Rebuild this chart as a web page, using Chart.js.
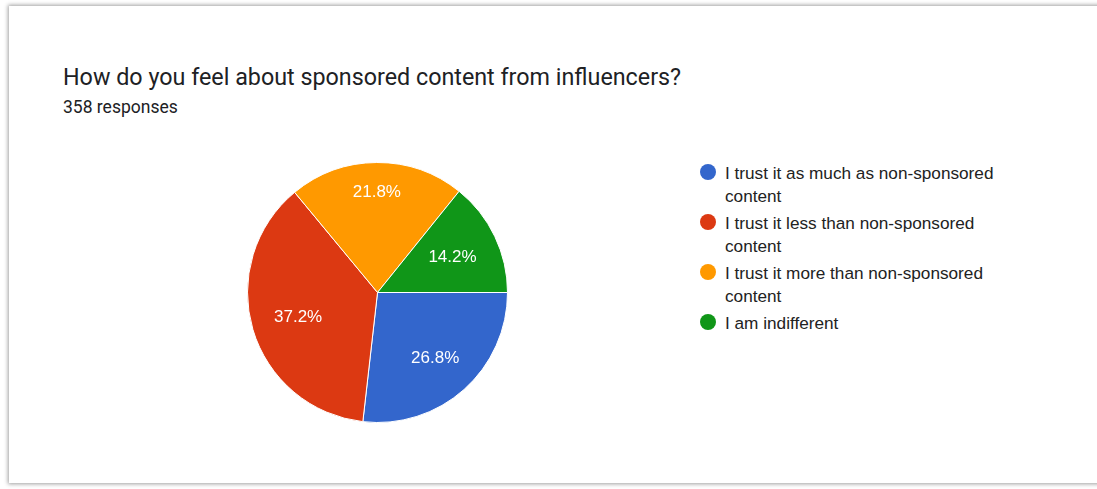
<!DOCTYPE html>
<html>
<head>
<meta charset="utf-8">
<script src="https://cdn.jsdelivr.net/npm/chart.js@4.4.0/dist/chart.umd.min.js"></script>
<style>
  html, body { margin: 0; padding: 0; background: #ffffff; width: 1097px; height: 489px; overflow: hidden; }
  .card {
    position: absolute; left: 9px; top: 6px; width: 1200px; height: 477px;
    background: #ffffff; box-shadow: 0 0 4px 1px rgba(0,0,0,0.38);
  }
  .title {
    position: absolute; left: 63px; top: 66px; margin: 0;
    font: 400 23.3px/23.3px Roboto, Arial, sans-serif; color: #202124; white-space: nowrap;
  }
  .subtitle {
    position: absolute; left: 63px; top: 99px; margin: 0;
    font: 400 17.5px/17.5px Roboto, Arial, sans-serif; color: #202124; white-space: nowrap;
  }
  #pie { position: absolute; left: 247px; top: 162px; }
  #legend {
    position: absolute; left: 700px; top: 162px; width: 315px; margin: 0; padding: 0; list-style: none;
    font: 400 17.2px/23px "Liberation Sans", Arial, sans-serif; color: #222222;
  }
  #legend li { position: relative; padding-left: 25px; margin: 0 0 4px 0; width: 290px; }
  #legend .dot { position: absolute; left: 0; top: 2px; width: 16px; height: 16px; border-radius: 50%; }
</style>
</head>
<body>
<div class="card"></div>
<div class="title">How do you feel about sponsored content from influencers?</div>
<div class="subtitle">358 responses</div>
<canvas id="pie" width="261" height="261"></canvas>
<ul id="legend"></ul>
<script>
// Answer options, in the order they appear in the legend
const categories = [
  "I trust it as much as non-sponsored content",
  "I trust it less than non-sponsored content",
  "I trust it more than non-sponsored content",
  "I am indifferent"
];
// Share of the 358 responses for each option, in percent
const percentages = [26.8, 37.2, 21.8, 14.2];
// Slice colours
const palette = ["#3366cc", "#dc3912", "#ff9900", "#109618"];

// Writes each slice's percentage inside it, white, centred on the slice's mid-angle
const sliceLabels = {
  id: "sliceLabels",
  afterDatasetsDraw(chart) {
    const ctx = chart.ctx;
    const meta = chart.getDatasetMeta(0);
    ctx.save();
    ctx.font = "17px 'Liberation Sans', Arial, sans-serif";
    ctx.fillStyle = "#ffffff";
    ctx.textAlign = "center";
    ctx.textBaseline = "middle";
    meta.data.forEach((arc, i) => {
      const p = arc.getProps(["x", "y", "startAngle", "endAngle", "outerRadius"], true);
      const mid = (p.startAngle + p.endAngle) / 2;
      const text = percentages[i].toFixed(1) + "%";
      const halfW = ctx.measureText(text).width / 2;
      const halfH = 7;
      const c = Math.cos(mid), s = Math.sin(mid);
      // keep the text box's outer edge at a fixed distance from the centre
      const d = p.outerRadius * 0.83 - (halfW * Math.abs(c) + halfH * Math.abs(s));
      ctx.fillText(text, p.x + c * d, p.y + s * d + 1);
    });
    ctx.restore();
  }
};

new Chart(document.getElementById("pie"), {
  type: "pie",
  data: {
    labels: categories,
    datasets: [{
      data: percentages,
      backgroundColor: palette,
      borderColor: "#ffffff",
      borderWidth: 1,
      hoverOffset: 0
    }]
  },
  options: {
    responsive: false,
    animation: false,
    rotation: 90,
    layout: { padding: 0 },
    plugins: {
      legend: { display: false },
      tooltip: { enabled: false },
      title: { display: false }
    }
  },
  plugins: [sliceLabels]
});

// Legend list built from the same categories and colours
const legend = document.getElementById("legend");
categories.forEach((label, i) => {
  const li = document.createElement("li");
  const dot = document.createElement("span");
  dot.className = "dot";
  dot.style.background = palette[i];
  li.appendChild(dot);
  li.appendChild(document.createTextNode(label));
  legend.appendChild(li);
});
</script>
</body>
</html>
